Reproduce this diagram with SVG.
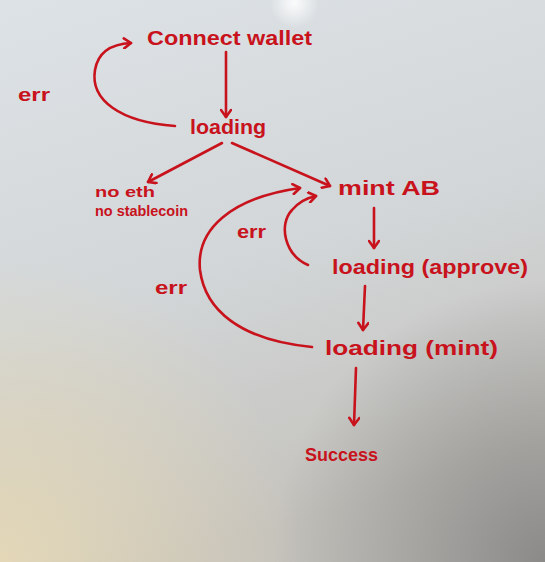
<svg xmlns="http://www.w3.org/2000/svg" width="545" height="562" viewBox="0 0 545 562">
<defs>
<linearGradient id="bg" x1="0" y1="0" x2="0.3" y2="1">
<stop offset="0" stop-color="#dde2e6"/>
<stop offset="0.55" stop-color="#d2d6d8"/>
<stop offset="1" stop-color="#c4c2bc"/>
</linearGradient>
<radialGradient id="warm" cx="0" cy="1" r="0.55">
<stop offset="0" stop-color="#e3d7b7" stop-opacity="1"/>
<stop offset="1" stop-color="#e3d7b7" stop-opacity="0"/>
</radialGradient>
<radialGradient id="dark" cx="1" cy="1" r="0.5">
<stop offset="0" stop-color="#808080" stop-opacity="0.85"/>
<stop offset="1" stop-color="#808080" stop-opacity="0"/>
</radialGradient>
<radialGradient id="glare" cx="0.54" cy="0.005" r="0.045">
<stop offset="0" stop-color="#ffffff" stop-opacity="0.9"/>
<stop offset="1" stop-color="#ffffff" stop-opacity="0"/>
</radialGradient>
<marker id="ah" markerWidth="12" markerHeight="12" refX="9" refY="6" orient="auto" markerUnits="userSpaceOnUse">
<path d="M2,1 L9,6 L2,11" fill="none" stroke="#c8121c" stroke-width="2.6" stroke-linecap="round" stroke-linejoin="round"/>
</marker>
<style>
text{font-family:"Liberation Sans",Arial,sans-serif;font-weight:bold;fill:#c8121c;}
.big{font-size:21px;}
.mid{font-size:19px;}
.sm{font-size:15px;}
.edge{fill:none;stroke:#c8121c;stroke-width:2.6;stroke-linecap:round;marker-end:url(#ah);}
</style>
</defs>
<rect width="545" height="562" fill="url(#bg)"/>
<rect width="545" height="562" fill="url(#warm)"/>
<rect width="545" height="562" fill="url(#dark)"/>
<rect width="545" height="562" fill="url(#glare)"/>

<g id="connectors">
<path class="edge" d="M226,52 L226,117"/>
<path class="edge" d="M175,126 C120,122 90,100 95,70 C98,52 112,44 131,43"/>
<path class="edge" d="M222,143 L148,182"/>
<path class="edge" d="M232,143 L330,186"/>
<path class="edge" d="M374,208 L374,248"/>
<path class="edge" d="M308,265 C285,255 278,225 292,210 C298,203 306,198 316,196"/>
<path class="edge" d="M365,286 L363,330"/>
<path class="edge" d="M312,347 C240,340 205,310 200,270 C196,230 230,198 300,188"/>
<path class="edge" d="M356,368 L354,425"/>
</g>

<g id="connect-wallet"><text class="big" x="147" y="45" textLength="165" lengthAdjust="spacingAndGlyphs">Connect wallet</text></g>
<g id="loading1"><text class="big" x="190" y="134" textLength="76" lengthAdjust="spacingAndGlyphs">loading</text></g>
<g id="err1"><text class="mid" x="18" y="101" textLength="32" lengthAdjust="spacingAndGlyphs">err</text></g>
<g id="no-funds">
<text class="sm" x="95" y="197" textLength="60" lengthAdjust="spacingAndGlyphs">no eth</text>
<text class="sm" x="95" y="216" textLength="93" lengthAdjust="spacingAndGlyphs">no stablecoin</text>
</g>
<g id="mint-ab"><text class="big" x="338" y="195" textLength="102" lengthAdjust="spacingAndGlyphs">mint AB</text></g>
<g id="err2"><text class="mid" x="237" y="238" textLength="29" lengthAdjust="spacingAndGlyphs">err</text></g>
<g id="loading-approve"><text class="big" x="332" y="274" textLength="196" lengthAdjust="spacingAndGlyphs">loading (approve)</text></g>
<g id="err3"><text class="mid" x="155" y="294" textLength="32" lengthAdjust="spacingAndGlyphs">err</text></g>
<g id="loading-mint"><text class="big" x="325" y="355" textLength="173" lengthAdjust="spacingAndGlyphs">loading (mint)</text></g>
<g id="success"><text class="mid" x="305" y="461" textLength="73" lengthAdjust="spacingAndGlyphs">Success</text></g>
</svg>
